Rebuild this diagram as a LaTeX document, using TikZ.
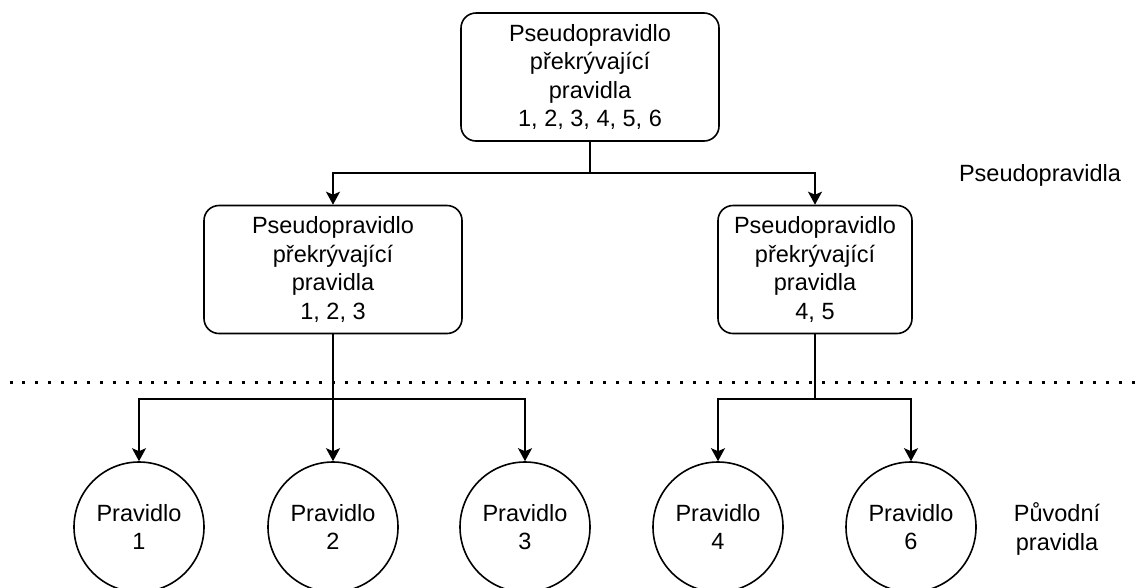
\documentclass[tikz,border=0pt]{standalone}
\usepackage{fontspec}
\setmainfont{Liberation Sans}
\usetikzlibrary{arrows.meta}

\begin{document}
\begin{tikzpicture}[x=1pt,y=-1pt,
  every node/.style={font=\fontsize{23.5}{28.6}\selectfont, align=center, inner sep=0pt},
  pseudobox/.style={draw, line width=1.6pt, rounded corners=15pt, minimum height=128pt},
  rulenode/.style={draw, line width=1.6pt, circle, minimum size=130pt},
  link/.style={line width=1.6pt},
  arr/.style={link, -{Stealth[length=13pt,width=14pt,inset=3pt]}},
  separator/.style={line width=3pt, dash pattern=on 3pt off 9.9pt}
]
  % canvas
  \useasboundingbox (0,0) rectangle (1142,587);

  % pseudo-rules
  \node[pseudobox, minimum width=258pt] (top) at (590,77)
    {Pseudopravidlo\\překrývající\\pravidla\\1, 2, 3, 4, 5, 6};
  \node[pseudobox, minimum width=258pt] (mL) at (333,269.5)
    {Pseudopravidlo\\překrývající\\pravidla\\1, 2, 3};
  \node[pseudobox, minimum width=194pt] (mR) at (815,269.5)
    {Pseudopravidlo\\překrývající\\pravidla\\4, 5};

  % original rules
  \node[rulenode] (c1) at (139,527) {Pravidlo\\1};
  \node[rulenode] (c2) at (333,527) {Pravidlo\\2};
  \node[rulenode] (c3) at (525,527) {Pravidlo\\3};
  \node[rulenode] (c4) at (718,527) {Pravidlo\\4};
  \node[rulenode] (c6) at (911,527) {Pravidlo\\6};

  % level labels
  \node (lblPseudo) at (1040,175) {Pseudopravidla};
  \node (lblOrig) at (1057,529) {Původní\\pravidla};

  % level separator
  \coordinate (sepL) at (9.5,382);
  \coordinate (sepR) at (1142,382);
  \draw[separator] (sepL) -- (sepR);

  % branching points
  \coordinate (j1) at (590,173);
  \coordinate (j2) at (333,399);
  \coordinate (j3) at (815,399);

  % connectors
  \draw[link] (top.south) -- (j1);
  \draw[arr] (j1) -| (mL.north);
  \draw[arr] (j1) -| (mR.north);

  \draw[arr] (mL.south) -- (c2.north);
  \draw[arr] (j2) -| (c1.north);
  \draw[arr] (j2) -| (c3.north);

  \draw[link] (mR.south) -- (j3);
  \draw[arr] (j3) -| (c4.north);
  \draw[arr] (j3) -| (c6.north);
\end{tikzpicture}
\end{document}
